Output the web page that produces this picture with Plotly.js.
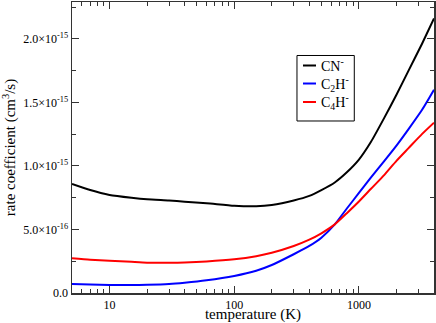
<!DOCTYPE html>
<html>
<head>
<meta charset="utf-8">
<script src="https://cdn.plot.ly/plotly-3.0.1.min.js"></script>
<style>html,body{margin:0;padding:0;background:#fff;}#chart{width:436px;height:323px;}</style>
</head>
<body>
<div id="chart"></div>
<script>
// temperature (K)
const temperature = [5, 7, 10, 15, 20, 30, 40, 60, 100, 150, 200, 300, 400, 500, 640, 800, 1000, 1250, 1600, 2000, 2500, 3200, 4000];
// rate coefficients in units of 1e-15 cm^3/s
const cnRate   = [0.858, 0.81, 0.772, 0.75, 0.738, 0.728, 0.719, 0.707, 0.687, 0.683, 0.693, 0.728, 0.764, 0.81, 0.87, 0.95, 1.05, 1.19, 1.38, 1.56, 1.75, 1.96, 2.16];
const c2hRate  = [0.071, 0.066, 0.063, 0.063, 0.065, 0.071, 0.081, 0.10, 0.134, 0.175, 0.22, 0.305, 0.37, 0.435, 0.54, 0.665, 0.787, 0.91, 1.04, 1.16, 1.29, 1.44, 1.60];
const c4hRate  = [0.273, 0.262, 0.254, 0.245, 0.239, 0.238, 0.24, 0.248, 0.265, 0.29, 0.317, 0.37, 0.42, 0.47, 0.54, 0.628, 0.72, 0.82, 0.93, 1.04, 1.14, 1.25, 1.34];
const seriesNames = ["CN<sup>-</sup>", "C<sub>2</sub>H<sup>-</sup>", "C<sub>4</sub>H<sup>-</sup>"];
const seriesColors = ["#000000", "#0000ff", "#ff0000"];
const yTickVals = [0, 0.5, 1.0, 1.5, 2.0];
const yTickText = ["0.0", "5.0×10<sup>-16</sup>", "1.0×10<sup>-15</sup>", "1.5×10<sup>-15</sup>", "2.0×10<sup>-15</sup>"];
const yMinorVals = [0.25, 0.75, 1.25, 1.75, 2.25];
const xTickVals = [10, 100, 1000];
const xTickText = ["10", "100", "1000"];
const xMinorVals = [6,7,8,9,20,30,40,50,60,70,80,90,200,300,400,500,600,700,800,900,2000,3000,4000];

const FONT = "'Liberation Serif', 'Times New Roman', Times, serif";

const ys = [cnRate, c2hRate, c4hRate];
const traces = ys.map((y, i) => ({
  x: temperature, y: y, type: 'scatter', mode: 'lines', name: seriesNames[i],
  line: {color: seriesColors[i], width: 2, shape: 'spline', smoothing: 0.6}, showlegend: false
}));

// manual legend box (matches reference's compact legend)
const legX0 = 0.6215, legX1 = 0.7798, legY0 = 0.5911, legY1 = 0.8162;
const legRowsY = [0.7818, 0.7199, 0.6564];
const shapes = [{type: 'rect', xref: 'paper', yref: 'paper', x0: legX0, x1: legX1, y0: legY0, y1: legY1,
  line: {color: '#000', width: 1}, fillcolor: 'rgba(0,0,0,0)'}];
const annotations = [];
legRowsY.forEach((ly, i) => {
  shapes.push({type: 'line', xref: 'paper', yref: 'paper', x0: 0.6381, x1: 0.6740, y0: ly, y1: ly,
    line: {color: seriesColors[i], width: 2}});
  annotations.push({xref: 'paper', yref: 'paper', x: 0.6823, y: ly, xanchor: 'left', yanchor: 'middle',
    text: seriesNames[i], showarrow: false, font: {family: FONT, size: 14, color: '#000'}});
});

const layout = {
  width: 436, height: 323,
  margin: {l: 72, r: 2, t: 2, b: 30},
  paper_bgcolor: '#fff', plot_bgcolor: '#fff',
  font: {family: FONT, color: '#000', size: 12},
  showlegend: false,
  xaxis: {
    type: 'log', range: [Math.log10(5), Math.log10(4000)],
    tickmode: 'array', tickvals: xTickVals, ticktext: xTickText,
    ticks: 'inside', ticklen: 7, tickwidth: 1, tickcolor: '#333',
    minor: {tickmode: 'array', tickvals: xMinorVals, ticks: 'inside', ticklen: 4, tickcolor: '#333', showgrid: false},
    showline: true, linecolor: '#333', linewidth: 1.5, mirror: 'ticks',
    showgrid: false, zeroline: false,
    tickfont: {family: FONT, size: 12},
    title: {text: 'temperature (K)', font: {family: FONT, size: 15}, standoff: 2}
  },
  yaxis: {
    range: [0, 2.29],
    tickmode: 'array', tickvals: yTickVals, ticktext: yTickText,
    ticks: 'inside', ticklen: 7, tickwidth: 1, tickcolor: '#333',
    minor: {tickmode: 'array', tickvals: yMinorVals, ticks: 'inside', ticklen: 4, tickcolor: '#333', showgrid: false},
    showline: true, linecolor: '#333', linewidth: 1.5, mirror: 'ticks',
    showgrid: false, zeroline: false,
    tickfont: {family: FONT, size: 12},
    title: {text: 'rate coefficient (cm<sup>3</sup>/s)', font: {family: FONT, size: 15}, standoff: 4}
  },
  shapes: shapes,
  annotations: annotations
};

Plotly.newPlot('chart', traces, layout, {staticPlot: true, displayModeBar: false});
</script>
</body>
</html>
